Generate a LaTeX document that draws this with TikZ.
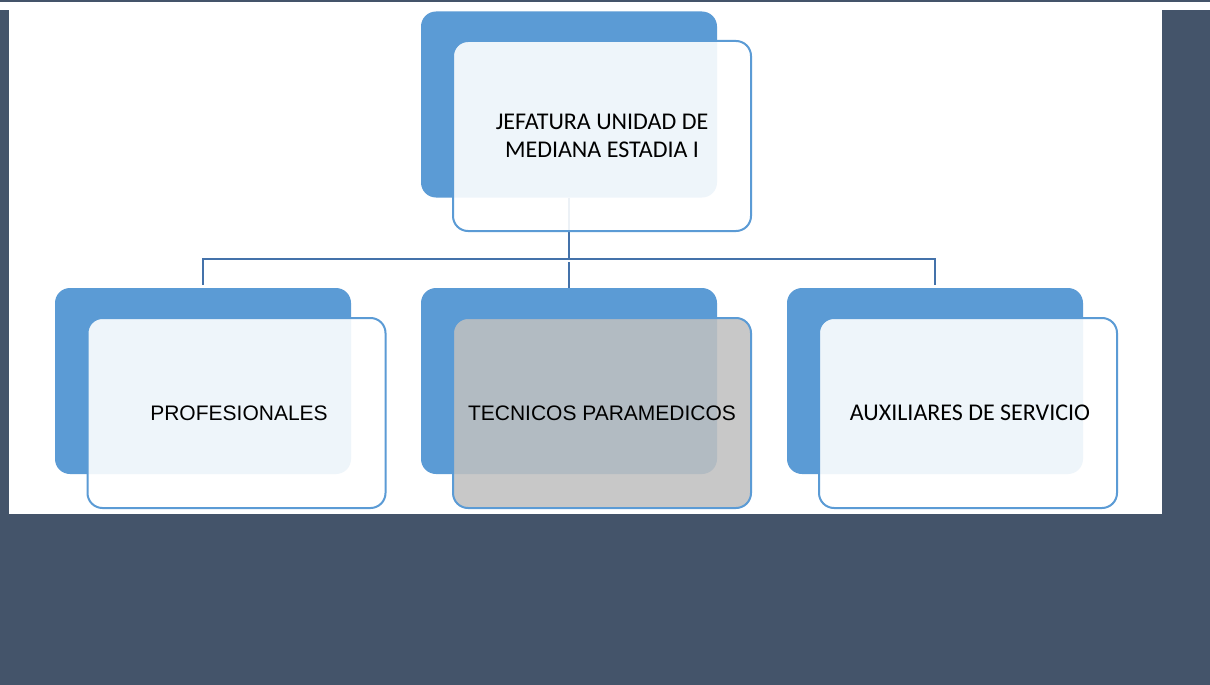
\documentclass[tikz,border=0pt]{standalone}
\usepackage{fontspec}
\newfontfamily\carl{Carlito}
\newfontfamily\arial{Liberation Sans}
\definecolor{bgdark}{RGB}{68,84,106}
\definecolor{boxblue}{RGB}{91,155,213}
\definecolor{connblue}{RGB}{68,114,170}
\definecolor{boxgray}{RGB}{192,192,192}
\tikzset{
  backbox/.style={rectangle, rounded corners=15pt, fill=boxblue, minimum width=296pt, minimum height=186pt, inner sep=0pt},
  frontbox/.style={rectangle, rounded corners=15pt, draw=boxblue, line width=2pt, fill=white, fill opacity=0.9, text opacity=1, minimum width=298pt, minimum height=190pt, inner sep=0pt, align=center, text=black},
  graybox/.style={frontbox, fill=boxgray, fill opacity=0.87},
  conn/.style={draw=connblue, line width=2pt}
}
\begin{document}
\begin{tikzpicture}[x=1pt,y=-1pt]
\useasboundingbox (0,0) rectangle (1210,685);
\fill[bgdark] (0,0) rectangle (1210,685);
\fill[white] (0,2) rectangle (1210,10);
\fill[white] (9,2) rectangle (1162,514);
% back boxes
\node[backbox] (tb) at (569,104.5) {};
\node[backbox] (lb) at (203,381) {};
\node[backbox] (mb) at (569,381) {};
\node[backbox] (rb) at (935,381) {};
% connectors
\coordinate (j) at (569,259);
\draw[conn] (tb.south) -- (j);
\draw[conn, shorten <=3pt, shorten >=3pt] (lb.north) |- (j) -| (rb.north);
\draw[conn, shorten <=3pt] (j) -- (mb.north);
% front boxes
\node[frontbox, font=\carl\fontsize{24}{28}\selectfont] (tf) at (602,136) {JEFATURA UNIDAD DE\\MEDIANA ESTADIA I};
\node[frontbox, font=\arial\fontsize{21}{25}\selectfont] (lf) at (236.5,413) {\hspace*{5pt}PROFESIONALES};
\node[graybox, font=\arial\fontsize{21}{25}\selectfont] (mf) at (602,413) {TECNICOS PARAMEDICOS};
\node[frontbox, font=\carl\fontsize{24}{28}\selectfont] (rf) at (968,413) {\hspace*{4pt}AUXILIARES DE SERVICIO};
\end{tikzpicture}
\end{document}
